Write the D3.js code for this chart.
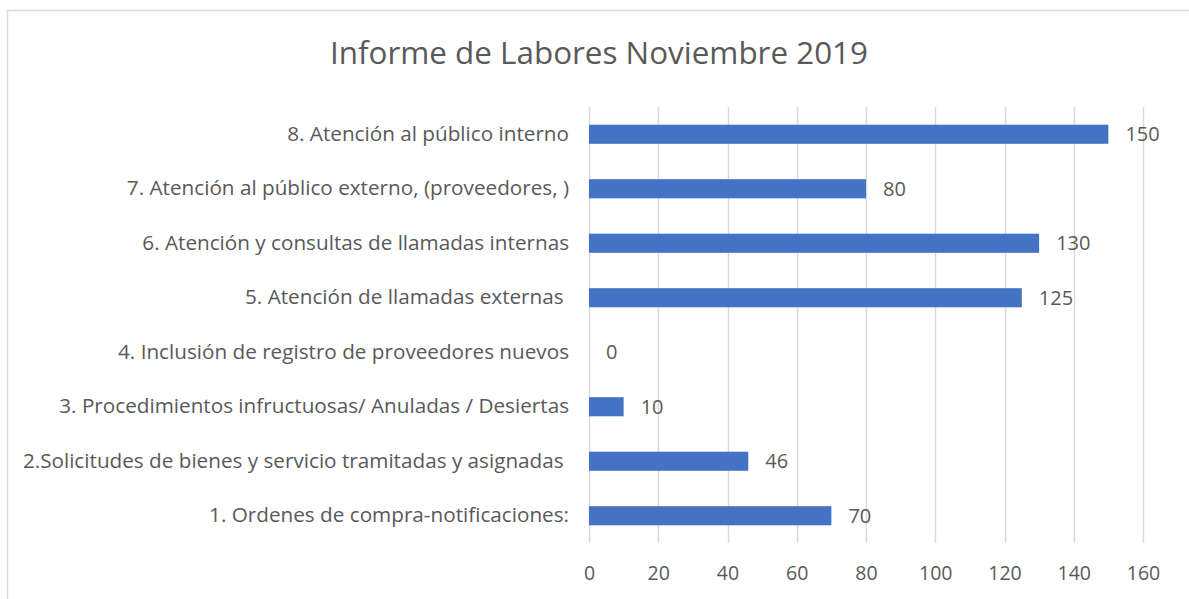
<!DOCTYPE html>
<html>
<head>
<meta charset="utf-8">
<script src="https://cdn.jsdelivr.net/npm/d3@7"></script>
<style>
  body { margin: 0; background: #fff; }
  text { font-family: "Open Sans", sans-serif; fill: #595959; }
</style>
</head>
<body>
<script>
// Data (bottom to top as in the chart)
const categories = [
  "1. Ordenes de compra-notificaciones:",
  "2.Solicitudes de bienes y servicio tramitadas y asignadas ",
  "3. Procedimientos infructuosas/ Anuladas / Desiertas",
  "4. Inclusión de registro de proveedores nuevos",
  "5. Atención de llamadas externas ",
  "6. Atención y consultas de llamadas internas",
  "7. Atención al público externo, (proveedores, )",
  "8. Atención al público interno"
];
const values = [70, 46, 10, 0, 125, 130, 80, 150];
const xTicks = [0, 20, 40, 60, 80, 100, 120, 140, 160];
const title = "Informe de Labores Noviembre 2019";

const width = 1189, height = 599;
const margin = { top: 107, right: 46, bottom: 56, left: 589 };

const svg = d3.select("body").append("svg")
  .attr("width", width)
  .attr("height", height);

// chart frame
svg.append("rect")
  .attr("x", 7.5).attr("y", 10.5)
  .attr("width", 1200).attr("height", 600)
  .attr("fill", "none")
  .attr("stroke", "#d9d9d9")
  .attr("stroke-width", 1.5);

// title
svg.append("text")
  .attr("x", 599).attr("y", 64)
  .attr("text-anchor", "middle")
  .style("font-size", "31.4px")
  .text(title);

const x = d3.scaleLinear().domain([0, 160]).range([margin.left, width - margin.right]);
const y = d3.scaleBand()
  .domain(categories.slice().reverse())
  .range([margin.top, height - margin.bottom])
  .paddingInner(0.65).paddingOuter(0.325);

// gridlines
svg.append("g")
  .selectAll("line")
  .data(xTicks)
  .join("line")
  .attr("x1", d => Math.round(x(d)) + 0.5)
  .attr("x2", d => Math.round(x(d)) + 0.5)
  .attr("y1", margin.top)
  .attr("y2", height - margin.bottom)
  .attr("stroke", "#d9d9d9")
  .attr("stroke-width", 1.5);

// x axis labels
const xAxis = svg.append("g")
  .attr("transform", `translate(0, ${height - margin.bottom})`)
  .call(d3.axisBottom(x).tickValues(xTicks).tickSize(0).tickPadding(23));
xAxis.select(".domain").remove();
xAxis.selectAll("text")
  .style("font-size", "19.5px")
  .style("font-family", "'Open Sans', sans-serif")
  .attr("fill", "#595959");

// y axis labels
const yAxis = svg.append("g")
  .attr("transform", `translate(${margin.left}, 0)`)
  .call(d3.axisLeft(y).tickSize(0).tickPadding(20));
yAxis.select(".domain").remove();
yAxis.selectAll("text")
  .style("font-size", "20.7px")
  .style("font-family", "'Open Sans', sans-serif")
  .style("white-space", "pre")
  .attr("fill", "#595959");

// bars
svg.append("g")
  .selectAll("rect")
  .data(values)
  .join("rect")
  .attr("x", x(0))
  .attr("y", (d, i) => y(categories[i]))
  .attr("width", d => x(d) - x(0))
  .attr("height", y.bandwidth())
  .attr("fill", "#4472c4");

// value labels
svg.append("g")
  .selectAll("text")
  .data(values)
  .join("text")
  .attr("x", d => x(d) + 17)
  .attr("y", (d, i) => y(categories[i]) + y.bandwidth() / 2)
  .attr("dy", "0.36em")
  .style("font-size", "20px")
  .text(d => d);
</script>
</body>
</html>
